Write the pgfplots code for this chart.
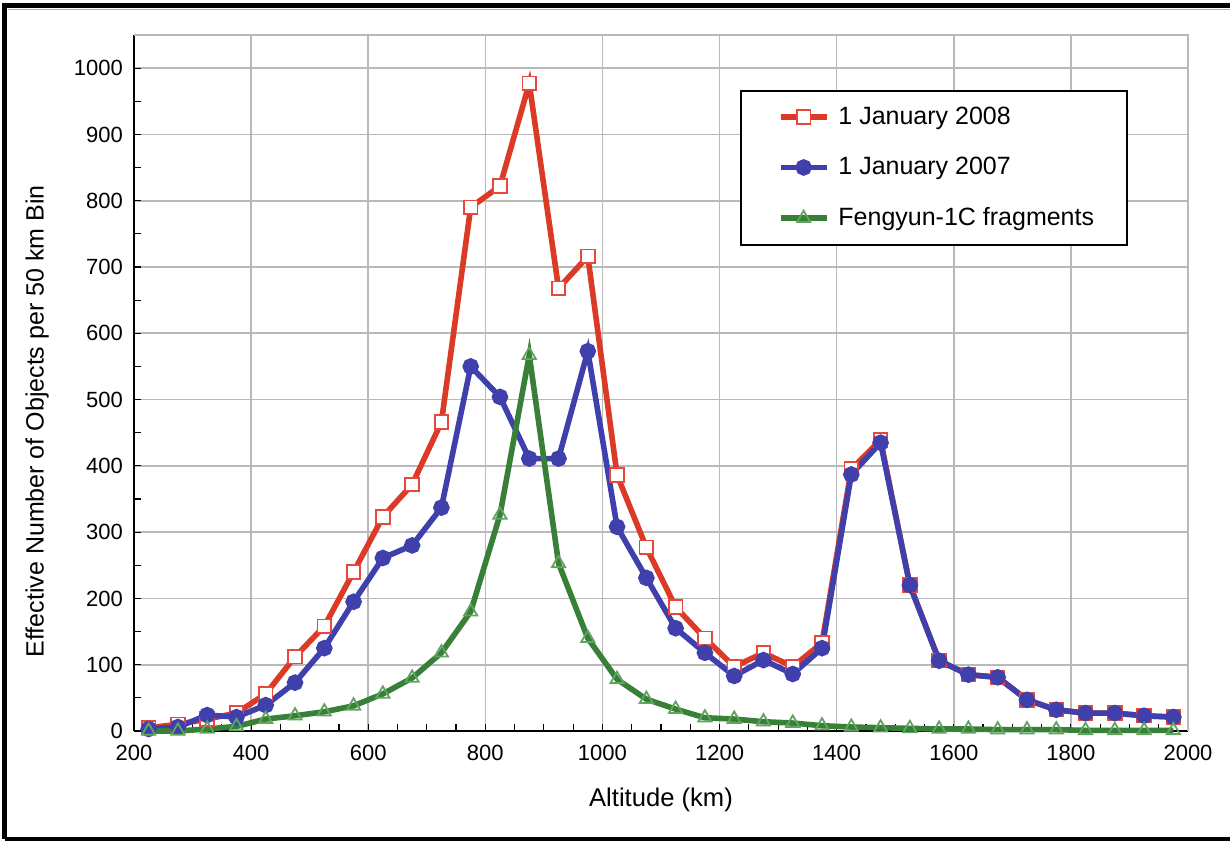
\documentclass[border=0pt]{standalone}
\usepackage{pgfplots}
\pgfplotsset{compat=1.18}
\usepackage{fontspec}
\setmainfont{Liberation Sans}
\definecolor{cred}{RGB}{218,58,38}
\definecolor{cblue}{RGB}{64,64,172}
\definecolor{cgreen}{RGB}{56,128,56}
\definecolor{mgreen}{RGB}{96,164,96}
\definecolor{mred}{RGB}{232,72,60}
\definecolor{gridc}{RGB}{185,185,185}
\pgfplotstableread{
x r b g
225 5 3 0
275 10 6 0
325 18 24 3
375 27 21 7
425 56 39 18
475 112 73 23
525 158 125 29
575 240 195 38
625 323 261 56
675 372 280 80
725 466 337 118
775 790 550 180
825 822 504 326
875 977 411 567
925 668 411 253
975 716 573 140
1025 386 308 78
1075 277 231 48
1125 187 155 33
1175 140 118 20
1225 97 83 18
1275 118 107 14
1325 97 86 12
1375 133 125 8
1425 395 387 6
1475 439 435 5
1525 220 220 4
1575 106 106 3
1625 85 85 3
1675 81 81 2
1725 47 47 2
1775 32 32 2
1825 27 27 1
1875 27 27 1
1925 23 23 1
1975 21 21 1
}\data
\begin{document}
\begin{tikzpicture}
\useasboundingbox (-67pt,-55.5pt) rectangle (548pt,365.5pt);
\fill[white] (-67pt,-55.5pt) rectangle (548pt,365.5pt);
\draw[black,line width=2.5pt] (-64.5pt,-54pt) -- (-64.5pt,362.5pt) -- (548pt,362.5pt);
\draw[gray!60,line width=0.6pt] (-63pt,360.8pt) -- (548pt,360.8pt);
\draw[black,line width=1.6pt] (-64.5pt,-54pt) -- (548pt,-54pt);
\begin{axis}[
  at={(0,0)}, anchor=south west,
  scale only axis, width=527pt, height=348pt,
  xmin=200, xmax=2000, ymin=0, ymax=1050,
  xtick={200,400,...,2000}, ytick={0,100,...,1000},
  minor x tick num=3, minor y tick num=1,
  axis x line*=bottom, axis y line*=left,
  axis line style={black, line width=0.8pt, -},
  tick align=inside,
  major tick length=3.5pt, minor tick length=3.5pt,
  every tick/.style={black, line width=0.6pt},
  grid=major,
  major grid style={gridc, line width=0.8pt},
  /pgf/number format/assume math mode=true,
  /pgf/number format/1000 sep={},
  tick label style={font=\fontsize{11}{13}\selectfont},
  xticklabel style={yshift=-3.5pt},
  yticklabel style={xshift=-2pt},
  xlabel={Altitude (km)},
  ylabel={Effective Number of Objects per 50 km Bin},
  xlabel style={font=\fontsize{12.8}{15}\selectfont, at={(axis description cs:0.5,0)}, anchor=center, yshift=-34.5pt},
  ylabel style={font=\fontsize{12.5}{15}\selectfont, at={(axis description cs:-0.092,0.445)}, anchor=center},
  clip=false,
  legend cell align=left,
  legend style={at={(0.575,0.921)}, anchor=north west, draw=black, line width=0.8pt,
    font=\fontsize{12.5}{15}\selectfont, inner xsep=14.5pt, inner ysep=6pt,
    row sep=11pt},
  legend image code/.code={\path (0pt,0pt) (29.5pt,0pt);\draw[mark repeat=2,mark phase=2] plot coordinates {(4pt,0pt)(15.5pt,0pt)(27pt,0pt)};},
]
\draw[gridc, line width=0.8pt] (axis cs:200,1050) -- (axis cs:2000,1050) -- (axis cs:2000,0);
\addplot[cred, line width=2.8pt, mark=square*, mark size=3.4pt,
  mark options={draw=mred, line width=0.9pt, fill=white, solid}] table[x=x,y=r]{\data};
\addlegendentry{1 January 2008}
\addplot[cblue, line width=2.8pt, mark=*, mark size=2.7pt,
  mark options={draw=cblue, fill=cblue, solid}] table[x=x,y=b]{\data};
\addlegendentry{1 January 2007}
\addplot[cgreen, line width=2.8pt, mark=triangle, mark size=3.8pt,
  mark options={draw=mgreen, line width=0.9pt, fill=none, solid}] table[x=x,y=g]{\data};
\addlegendentry{Fengyun-1C fragments}
\end{axis}
\end{tikzpicture}
\end{document}
